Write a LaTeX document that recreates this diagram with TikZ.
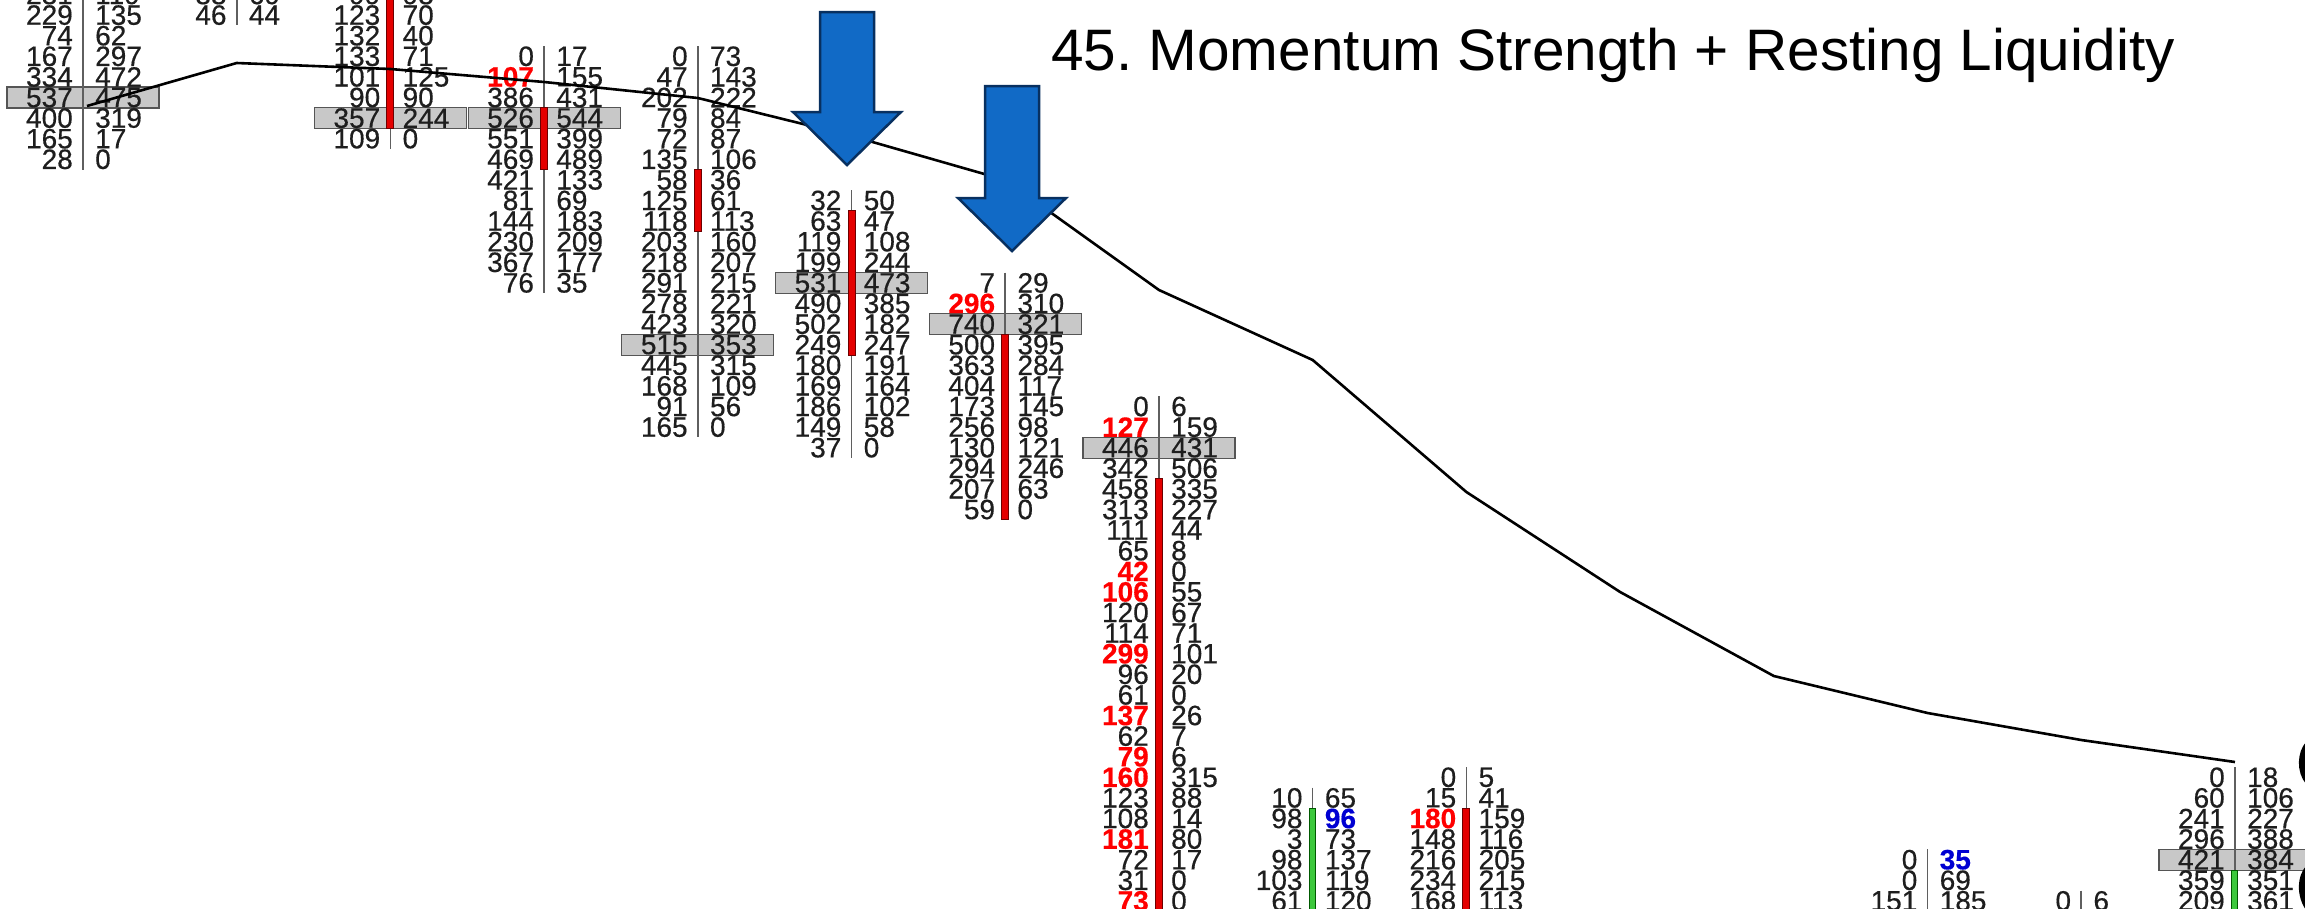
\documentclass[tikz,border=0pt]{standalone}
\usepackage{fontspec}
\setmainfont{Liberation Sans}
\newfontfamily\numfont[FakeBold=0.45]{Liberation Sans}
\definecolor{numc}{RGB}{30,30,30}
\definecolor{numred}{RGB}{255,0,0}
\definecolor{numblue}{RGB}{0,0,210}
\definecolor{boxfill}{RGB}{200,200,200}
\definecolor{boxline}{RGB}{85,85,85}
\definecolor{divc}{RGB}{95,95,95}
\definecolor{redfill}{RGB}{228,0,0}
\definecolor{redline}{RGB}{110,0,0}
\definecolor{greenfill}{RGB}{60,200,60}
\definecolor{greenline}{RGB}{0,90,0}
\definecolor{arrowfill}{RGB}{17,106,198}
\definecolor{arrowline}{RGB}{8,48,96}
\newcommand\fpR[1]{\textcolor{numred}{\bfseries #1}}
\newcommand\fpB[1]{\textcolor{numblue}{\bfseries #1}}
\frenchspacing
\tikzset{
  num/.style={inner sep=0pt, font=\numfont\fontsize{28}{28}\selectfont, text=numc},
  bidtxt/.style={num, anchor=east},
  asktxt/.style={num, anchor=west},
  fpbox/.style={draw=boxline, fill=boxfill, line width=1.2pt, minimum width=152pt, minimum height=21pt, inner sep=0pt},
  divline/.style={draw=divc, line width=1.6pt},
  redbar/.style={draw=redline, fill=redfill, line width=1pt},
  greenbar/.style={draw=greenline, fill=greenfill, line width=1pt},
  vwap/.style={draw=black, line width=2.6pt, line join=round},
  bluearrow/.style={fill=arrowfill, draw=arrowline, line width=2.5pt, line join=miter},
  titletxt/.style={anchor=base west, inner sep=0pt, font=\fontsize{58.5}{58.5}\selectfont, text=black},
}
\newcommand\fpcolumn[4]{%
  \pgfmathsetmacro\xbid{83+153.71*#2-10}%
  \pgfmathsetmacro\xask{83+153.71*#2+12}%
  \foreach \bid/\ask [count=\i from 0] in {#4} {
    \pgfmathsetmacro\yy{97.5+20.6*(#3+\i)}
    \node[bidtxt] (#1b\i) at (\xbid,\yy) {\bid};
    \node[asktxt] (#1a\i) at (\xask,\yy) {\ask};
  }%
}
\begin{document}
\begin{tikzpicture}[x=1pt,y=-1pt, declare function={ry(\r)=97.5+20.6*\r; cx(\c)=83+153.71*\c;}]
\useasboundingbox (0,0) rectangle (2305,908);
\clip (0,0) rectangle (2305,908);
\fill[white] (0,0) rectangle (2305,908);

% ---------- boxes (highest-volume rows)
\node[fpbox] (Abox) at ({cx(0)},{ry(0)}) {};
\node[fpbox] (Cbox) at ({cx(2)},{ry(1)}) {};
\node[fpbox] (Dbox) at ({cx(3)},{ry(1)}) {};
\node[fpbox] (Ebox) at ({cx(4)},{ry(12)}) {};
\node[fpbox] (Fbox) at ({cx(5)},{ry(9)}) {};
\node[fpbox] (Gbox) at ({cx(6)},{ry(11)}) {};
\node[fpbox] (Hbox) at ({cx(7)},{ry(17)}) {};
\node[fpbox] (Mbox) at ({cx(14)},{ry(37)}) {};

% ---------- dividers
\draw[divline] ({cx(0)},-5) -- ({cx(0)},{ry(3)+10.3});
\draw[divline] ({cx(1)},-5) -- ({cx(1)},{ry(-4)+10.3});
\draw[divline] ({cx(2)},-5) -- ({cx(2)},{ry(2)+10.3});
\draw[divline] ({cx(3)},{ry(-2)-10.3}) -- ({cx(3)},{ry(9)+10.3});
\draw[divline] ({cx(4)},{ry(-2)-10.3}) -- ({cx(4)},{ry(16)+10.3});
\draw[divline] ({cx(5)},{ry(5)-10.3}) -- ({cx(5)},{ry(17)+10.3});
\draw[divline] ({cx(6)},{ry(9)-10.3}) -- ({cx(6)},{ry(20)+10.3});
\draw[divline] ({cx(7)},{ry(15)-10.3}) -- ({cx(7)},915);
\draw[divline] ({cx(8)},{ry(34)-10.3}) -- ({cx(8)},915);
\draw[divline] ({cx(9)},{ry(33)-10.3}) -- ({cx(9)},915);
\draw[divline] ({cx(12)},{ry(37)-10.3}) -- ({cx(12)},915);
\draw[divline] ({cx(13)},{ry(39)-10.3}) -- ({cx(13)},915);
\draw[divline] ({cx(14)},{ry(33)-10.3}) -- ({cx(14)},915);

% ---------- candle bodies
\draw[redbar] ({cx(2)-3.5},-5) rectangle ({cx(2)+3.5},{ry(1)+10.3});
\draw[redbar] ({cx(3)-3.5},{ry(1)-10.3}) rectangle ({cx(3)+3.5},{ry(3)+10.3});
\draw[redbar] ({cx(4)-3.5},{ry(4)-10.3}) rectangle ({cx(4)+3.5},{ry(6)+10.3});
\draw[redbar] ({cx(5)-3.5},{ry(6)-10.3}) rectangle ({cx(5)+3.5},{ry(12)+10.3});
\draw[redbar] ({cx(6)-3.5},{ry(11)+10.3}) rectangle ({cx(6)+3.5},{ry(20)+10.3});
\draw[redbar] ({cx(7)-3.5},{ry(19)-10.3}) rectangle ({cx(7)+3.5},915);
\draw[greenbar] ({cx(8)-3},{ry(34)+10.3}) rectangle ({cx(8)+3},915);
\draw[redbar] ({cx(9)-3.5},{ry(35)-10.3}) rectangle ({cx(9)+3.5},915);
\draw[greenbar] ({cx(14)-3},{ry(37)+10.3}) rectangle ({cx(14)+3},915);

% ---------- bid / ask numbers
\fpcolumn{A}{0}{-5}{281/119, 229/135, 74/62, 167/297, 334/472, 537/475, 400/319, 165/17, 28/0}
\fpcolumn{B}{1}{-5}{88/69, 46/44}
\fpcolumn{C}{2}{-5}{99/98, 123/70, 132/40, 133/71, 101/125, 90/90, 357/244, 109/0}
\fpcolumn{D}{3}{-2}{0/17, \fpR{107}/155, 386/431, 526/544, 551/399, 469/489, 421/133, 81/69, 144/183, 230/209, 367/177, 76/35}
\fpcolumn{E}{4}{-2}{0/73, 47/143, 202/222, 79/84, 72/87, 135/106, 58/36, 125/61, 118/113, 203/160, 218/207, 291/215, 278/221, 423/320, 515/353, 445/315, 168/109, 91/56, 165/0}
\fpcolumn{F}{5}{5}{32/50, 63/47, 119/108, 199/244, 531/473, 490/385, 502/182, 249/247, 180/191, 169/164, 186/102, 149/58, 37/0}
\fpcolumn{G}{6}{9}{7/29, \fpR{296}/310, 740/321, 500/395, 363/284, 404/117, 173/145, 256/98, 130/121, 294/246, 207/63, 59/0}
\fpcolumn{H}{7}{15}{0/6, \fpR{127}/159, 446/431, 342/506, 458/335, 313/227, 111/44, 65/8, \fpR{42}/0, \fpR{106}/55, 120/67, 114/71, \fpR{299}/101, 96/20, 61/0, \fpR{137}/26, 62/7, \fpR{79}/6, \fpR{160}/315, 123/88, 108/14, \fpR{181}/80, 72/17, 31/0, \fpR{73}/0}
\fpcolumn{I}{8}{34}{10/65, 98/\fpB{96}, 3/73, 98/137, 103/119, 61/120}
\fpcolumn{J}{9}{33}{0/5, 15/41, \fpR{180}/159, 148/116, 216/205, 234/215, 168/113}
\fpcolumn{K}{12}{37}{0/\fpB{35}, 0/69, 151/185}
\fpcolumn{L}{13}{39}{0/6}
\fpcolumn{M}{14}{33}{0/18, 60/106, 241/227, 296/388, 421/384, 359/351, 209/361}

% ---------- average line
\coordinate (v0) at ({cx(0)+4},106);
\coordinate (v1) at ({cx(1)},63);
\coordinate (v2) at ({cx(2)},69);
\coordinate (v3) at ({cx(3)},82);
\coordinate (v4) at ({cx(4)},98);
\coordinate (v5) at ({cx(5)},136);
\coordinate (v6) at ({cx(6)},180);
\coordinate (v7) at ({cx(7)},290);
\coordinate (v8) at ({cx(8)},360);
\coordinate (v9) at ({cx(9)},492);
\coordinate (v10) at ({cx(10)},592);
\coordinate (v11) at ({cx(11)},676);
\coordinate (v12) at ({cx(12)},713);
\coordinate (v13) at ({cx(13)},740);
\coordinate (v14) at ({cx(14)},762);
\draw[vwap] (v0) -- (v1) -- (v2) -- (v3) -- (v4) -- (v5) -- (v6) -- (v7) -- (v8) -- (v9) -- (v10) -- (v11) -- (v12) -- (v13) -- (v14);

% ---------- blue arrows
\draw[bluearrow] (820,12) -- (874,12) -- (874,112) -- (901,112) -- (847,165) -- (793,112) -- (820,112) -- cycle;
\draw[bluearrow] (985,86) -- (1039,86) -- (1039,198) -- (1066,198) -- (1012,251) -- (958,198) -- (985,198) -- cycle;

% ---------- cut-off black shapes at right edge
\fill[black] (2306,742) .. controls (2297,752) and (2296,772) .. (2306,784) -- cycle;
\fill[black] (2306,866) .. controls (2297,876) and (2296,896) .. (2306,910) -- cycle;

% ---------- title
\node[titletxt] (title) at (1051,70) {45. Momentum Strength + Resting Liquidity};
\end{tikzpicture}
\end{document}
